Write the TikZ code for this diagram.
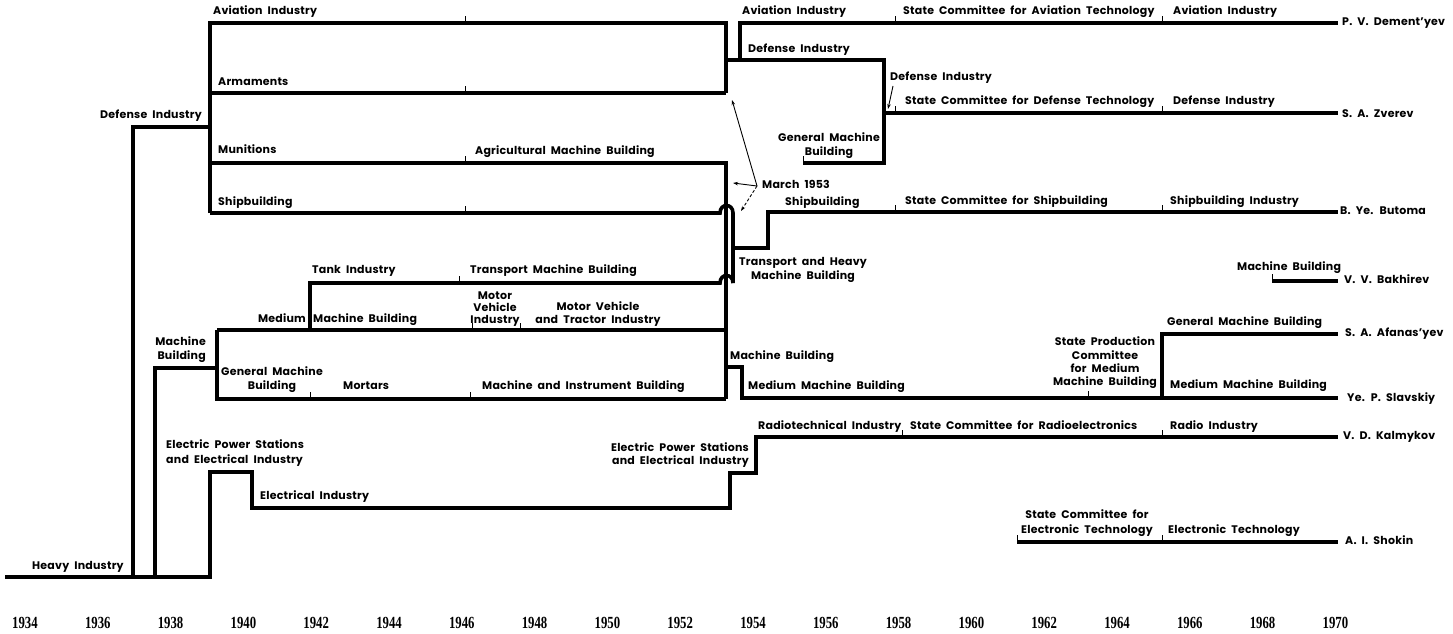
\documentclass[tikz,border=0pt]{standalone}
\usepackage{graphicx}
\usepackage{fontspec}
\setmainfont{Poppins}[WordSpace=2.0,LetterSpace=2]
\newfontfamily\yearfont{Liberation Serif}
\usetikzlibrary{arrows.meta}
\begin{document}
\begin{tikzpicture}[x=1pt,y=-1pt,
  ln/.style={line width=3.6pt, line join=miter},
  tk/.style={line width=1pt},
  thin/.style={line width=0.9pt},
  arr/.style={thin,-{Stealth[length=5pt,width=3.5pt]}},
  lab/.style={inner sep=0pt, anchor=west, font=\bfseries\fontsize{11}{13.5}\selectfont, text height=7.8pt, text depth=2.4pt},
  labe/.style={lab, anchor=east},
  ml/.style={inner sep=0pt, font=\bfseries\fontsize{11}{13.8}\selectfont},
  yr/.style={inner sep=0pt, font=\yearfont\bfseries\fontsize{17}{17}\selectfont}]
\useasboundingbox[fill=white] (0,0) rectangle (1453,634);

% ---------- thick lines ----------
\draw[ln] (5,577) -- (210,577) -- (210,472) -- (252,472) -- (252,508) -- (730,508) -- (730,473) -- (756,473) -- (756,437) -- (1338,437);
\draw[ln] (133,577) -- (133,127) -- (210,127);
\draw[ln] (210,213) -- (210,23) -- (726,23) -- (726,93);
\draw[ln] (210,93) -- (726,93);
\draw[ln] (726,60) -- (884,60) -- (884,163) -- (803,163);
\draw[ln] (884,113) -- (1338,113);
\draw[ln] (740,60) -- (740,23) -- (1338,23);
\draw[ln] (210,163) -- (726,163) -- (726,399);
\draw[ln] (210,213) -- (720,213) .. controls (720,203) and (733,203) .. (733,213) -- (733,283);
\draw[ln] (733,248) -- (768,248) -- (768,212) -- (1338,212);
\draw[ln] (155,577) -- (155,368) -- (217,368);
\draw[ln] (217,330) -- (217,399) -- (726,399);
\draw[ln] (217,330) -- (726,330);
\draw[ln] (310,330) -- (310,283) -- (720,283) .. controls (720,273) and (733,273) .. (733,283);
\draw[ln] (726,367) -- (742,367) -- (742,398) -- (1338,398);
\draw[ln] (1162,398) -- (1162,334) -- (1338,334);
\draw[ln] (1272,281) -- (1338,281);
\draw[ln] (1017,542) -- (1338,542);

% ---------- ticks ----------
\foreach \x/\y in {465/23,465/93,465/163,465/213,459/283,472/330,520/330,310/399,470/399,
  895/23,895/113,895/212,902/437,1162/23,1162/113,1162/212,1162/437,1162/542,1088/398,
  803/163,1272/281,1017/542}
  \draw[tk] (\x,\y) -- ++(0,-7);

% ---------- arrows ----------
\coordinate (mo) at (757,186);
\coordinate (ma) at (732,100);
\coordinate (mb) at (733,183);
\coordinate (mc) at (741,211);
\draw[arr] (mo) -- (ma);
\draw[arr] (mo) -- (mb);
\draw[arr, dashed, dash pattern=on 3pt off 2pt] (mo) -- (mc);
\coordinate (da) at (893,86);
\coordinate (db) at (888,109);
\draw[arr] (da) -- (db);

% ---------- labels ----------
\node[lab] (t1) at (213,12) {Aviation Industry};
\node[lab] (t2) at (218,83) {Armaments};
\node[labe] (t3) at (202,116) {Defense Industry};
\node[lab] (t4) at (218,151) {Munitions};
\node[lab] (t5) at (475,152) {Agricultural Machine Building};
\node[lab] (t6) at (218,203) {Shipbuilding};
\node[lab] (t7) at (742,12) {Aviation Industry};
\node[lab] (t8) at (903,12) {State Committee for Aviation Technology};
\node[lab] (t9) at (1173,12) {Aviation Industry};
\node[lab] (n1) at (1342,23) {P. V. Dement'yev};
\node[lab] (t10) at (748,50) {Defense Industry};
\node[lab] (t11) at (890,78) {Defense Industry};
\node[lab] (t12) at (905,102) {State Committee for Defense Technology};
\node[lab] (t13) at (1173,102) {Defense Industry};
\node[lab] (n2) at (1342,115) {S. A. Zverev};
\node[ml, align=center] (t14) at (829,146) {General Machine\\Building};
\node[lab] (t15) at (762,186) {March 1953};
\node[lab] (t16) at (785,203) {Shipbuilding};
\node[lab] (t17) at (905,202) {State Committee for Shipbuilding};
\node[lab] (t18) at (1170,202) {Shipbuilding Industry};
\node[lab] (n3) at (1340,212) {B. Ye. Butoma};
\node[lab] (t19) at (312,271) {Tank Industry};
\node[lab] (t20) at (470,271) {Transport Machine Building};
\node[ml, align=center] (t21) at (803,270) {Transport and Heavy\\Machine Building};
\node[lab] (t22) at (1237,268) {Machine Building};
\node[lab] (n4) at (1344,281) {V. V. Bakhirev};
\node[ml, align=center, font=\bfseries\fontsize{11}{11.8}\selectfont] (t23) at (495,309) {Motor\\Vehicle\\Industry};
\node[ml, align=center] (t24) at (598,314) {Motor Vehicle\\and Tractor Industry};
\node[labe] (t25) at (306,320) {Medium};
\node[lab] (t26) at (313,320) {Machine Building};
\node[lab] (t27) at (1167,323) {General Machine Building};
\node[lab] (n5) at (1345,334) {S. A. Afanas'yev};
\node[ml, align=right, anchor=east] (t28) at (206,350) {Machine\\Building};
\node[ml, align=center] (t29) at (272,380) {General Machine\\Building};
\node[lab] (t30) at (343,387) {Mortars};
\node[lab] (t31) at (482,387) {Machine and Instrument Building};
\node[lab] (t32) at (730,357) {Machine Building};
\node[lab] (t33) at (748,387) {Medium Machine Building};
\node[ml, align=center, font=\bfseries\fontsize{11}{13.3}\selectfont] (t34) at (1105,363) {State Production\\Committee\\for Medium\\Machine Building};
\node[lab] (t35) at (1170,386) {Medium Machine Building};
\node[lab] (n6) at (1347,399) {Ye. P. Slavskiy};
\node[lab] (t36) at (758,427) {Radiotechnical Industry};
\node[lab] (t37) at (910,427) {State Committee for Radioelectronics};
\node[lab] (t38) at (1170,427) {Radio Industry};
\node[lab] (n7) at (1343,437) {V. D. Kalmykov};
\node[ml, align=left, anchor=west, font=\bfseries\fontsize{11}{15}\selectfont] (t39) at (166,453) {Electric Power Stations\\and Electrical Industry};
\node[ml, align=right, anchor=east] (t40) at (749,455) {Electric Power Stations\\and Electrical Industry};
\node[lab] (t41) at (260,497) {Electrical Industry};
\node[ml, align=center, font=\bfseries\fontsize{11}{15}\selectfont] (t42) at (1087,523) {State Committee for\\Electronic Technology};
\node[lab] (t43) at (1168,531) {Electronic Technology};
\node[lab] (n8) at (1345,542) {A. I. Shokin};
\node[lab] (t44) at (32,567) {Heavy Industry};

% ---------- years ----------
\foreach \yy in {1934,1936,...,1970}
  \node[yr] (y\yy) at ({25+(\yy-1934)*36.4},623) {\scalebox{0.75}[1]{\yy}};
\end{tikzpicture}
\end{document}
